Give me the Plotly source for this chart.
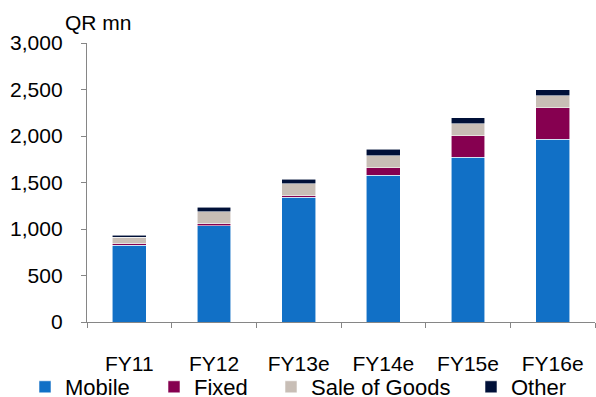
import plotly.graph_objects as go

categories = ["FY11", "FY12", "FY13e", "FY14e", "FY15e", "FY16e"]
mobile = [825, 1036, 1341, 1577, 1771, 1964]
fixed = [17, 18, 14, 82, 233, 341]
sale_of_goods = [69, 132, 132, 129, 129, 129]
other = [21, 47, 47, 69, 64, 64]
y_ticks = [0, 500, 1000, 1500, 2000, 2500, 3000]
y_ticktext = ["0", "500", "1,000", "1,500", "2,000", "2,500", "3,000"]

W, H = 596, 397
ML, MR, MT, MB = 87, 1, 43, 75
PW, PH = W - ML - MR, H - MT - MB
FONT = "Liberation Sans, Arial, sans-serif"

series = [
    ("Mobile", mobile, "#1170C6", "legend", 65),
    ("Fixed", fixed, "#860050", "legend2", 194),
    ("Sale of Goods", sale_of_goods, "#C8BEB6", "legend3", 311),
    ("Other", other, "#001038", "legend4", 511),
]

fig = go.Figure()
layout_legends = {}
for name, vals, color, leg, text_x in series:
    fig.add_trace(go.Bar(
        x=categories, y=vals, name=name,
        marker=dict(color=color, line=dict(color="rgba(255,255,255,0.7)", width=0.8)),
        legend=leg,
    ))
    layout_legends[leg] = dict(
        xref="container", yref="container",
        x=(text_x - 40) / W, xanchor="left",
        y=1 - 387 / H, yanchor="middle",
        orientation="v", bgcolor="rgba(0,0,0,0)",
        font=dict(family=FONT, size=22, color="#000000"),
        itemclick=False, itemdoubleclick=False,
    )

fig.update_layout(
    barmode="stack",
    bargap=0.6,
    width=W, height=H,
    margin=dict(l=ML, r=MR, t=MT, b=MB, autoexpand=False),
    paper_bgcolor="white",
    plot_bgcolor="white",
    font=dict(family=FONT, size=21, color="#000000"),
    showlegend=True,
    **layout_legends,
)

fig.update_yaxes(
    range=[0, 3000],
    tickvals=y_ticks, ticktext=y_ticktext,
    showgrid=False, zeroline=False,
    showline=True, linecolor="#868686", linewidth=1.3,
    ticks="outside", ticklen=5, tickcolor="#868686", tickwidth=1.3,
    ticklabelstandoff=14, automargin=False,
    tickfont=dict(family=FONT, size=21, color="#000000"),
)
fig.update_xaxes(
    showgrid=False, zeroline=False,
    showline=True, linecolor="#868686", linewidth=1.3,
    ticks="outside", ticklen=5, tickcolor="#868686", tickwidth=1.3,
    tickson="boundaries",
    ticklabelstandoff=23, automargin=False,
    tickfont=dict(family=FONT, size=21, color="#000000"),
)

fig.add_annotation(
    text="QR mn", xref="paper", yref="paper",
    x=(63 - ML) / PW, y=(H - MB - 9) / PH, xanchor="left", yanchor="top",
    showarrow=False, font=dict(family=FONT, size=21, color="#000000"),
)

fig.write_html("out.html")
